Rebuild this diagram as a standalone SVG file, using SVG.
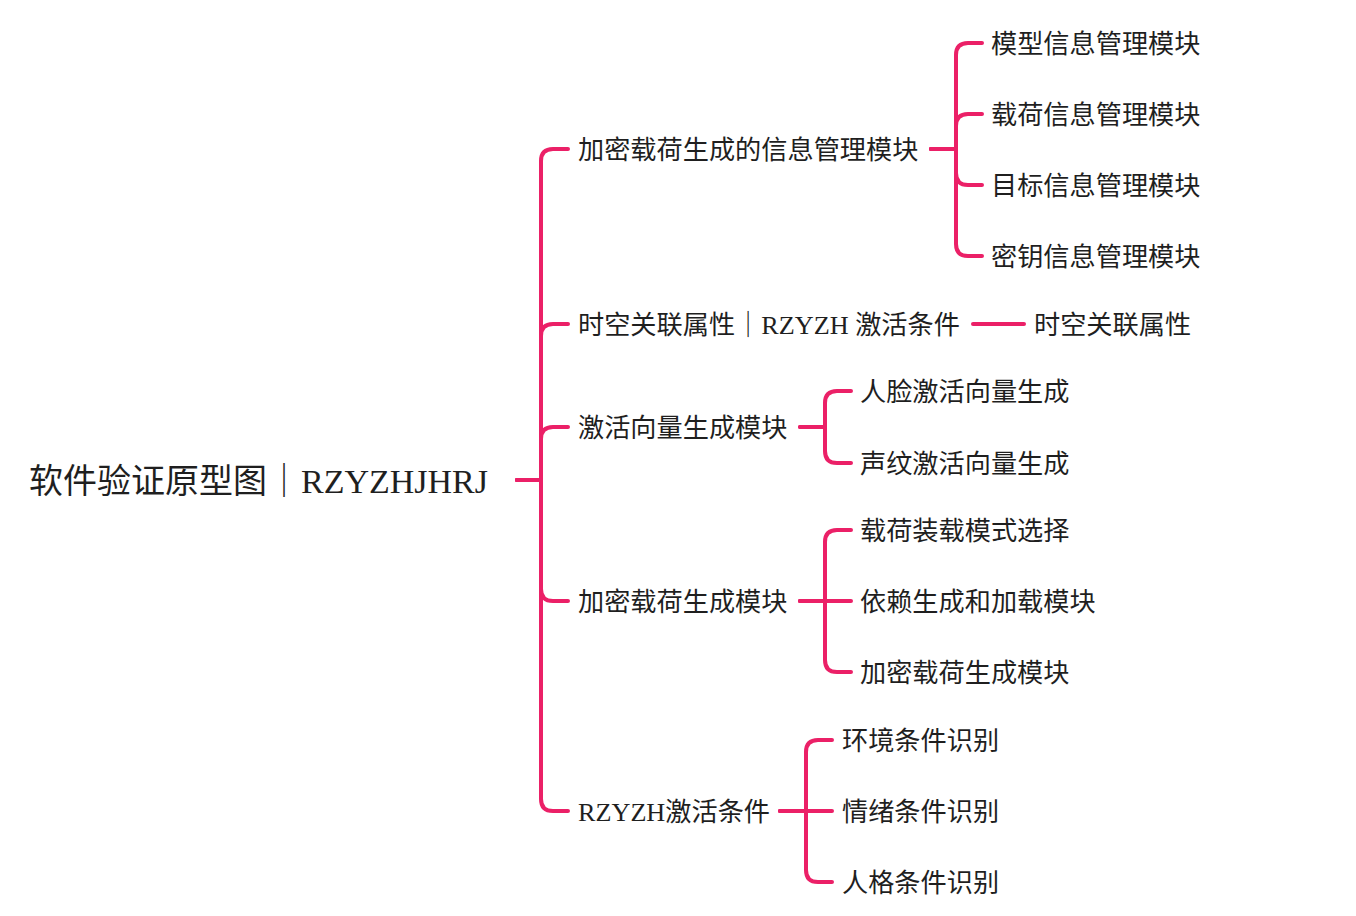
<svg xmlns="http://www.w3.org/2000/svg" width="1356" height="916" viewBox="0 0 1356 916">
<style>
.c{fill:none;stroke:#EB2067;stroke-width:4;stroke-linecap:round;stroke-linejoin:round}
text{font-family:"Liberation Serif","Noto Sans CJK SC",serif;fill:#1f1f1f;font-size:26.2px}
.root{font-size:34px}
</style>
<rect width="1356" height="916" fill="#fff"/>
<g id="connectors">
<path class="c" d="M517,480 H541 V161 Q541,149 553,149 H568"/>
<path class="c" d="M517,480 H541 V336 Q541,324 553,324 H568"/>
<path class="c" d="M517,480 H541 V439 Q541,427 553,427 H568"/>
<path class="c" d="M517,480 H541 V589 Q541,601 553,601 H568"/>
<path class="c" d="M517,480 H541 V799 Q541,811 553,811 H568"/>
<path class="c" d="M931,149 H956 V55 Q956,43 968,43 H982"/>
<path class="c" d="M931,149 H956 V126 Q956,114 968,114 H982"/>
<path class="c" d="M931,149 H956 V173 Q956,185 968,185 H982"/>
<path class="c" d="M931,149 H956 V244 Q956,256 968,256 H982"/>
<path class="c" d="M973,324 H1024"/>
<path class="c" d="M800,427 H825 V403 Q825,391 837,391 H851"/>
<path class="c" d="M800,427 H825 V451 Q825,463 837,463 H851"/>
<path class="c" d="M800,601 H825 V542 Q825,530 837,530 H851"/>
<path class="c" d="M800,601 H851"/>
<path class="c" d="M800,601 H825 V660 Q825,672 837,672 H851"/>
<path class="c" d="M780,811 H806 V752 Q806,740 818,740 H832"/>
<path class="c" d="M780,811 H832"/>
<path class="c" d="M780,811 H806 V870 Q806,882 818,882 H832"/>
</g>
<g id="root"><text class="root" x="29" y="493">软件验证原型图｜RZYZHJHRJ</text></g>
<g id="n1"><text x="578" y="159">加密载荷生成的信息管理模块</text></g>
<g id="n1a"><text x="991" y="53">模型信息管理模块</text></g>
<g id="n1b"><text x="991" y="124">载荷信息管理模块</text></g>
<g id="n1c"><text x="991" y="195">目标信息管理模块</text></g>
<g id="n1d"><text x="991" y="266">密钥信息管理模块</text></g>
<g id="n2"><text x="578" y="334">时空关联属性｜RZYZH 激活条件</text></g>
<g id="n2a"><text x="1034" y="334">时空关联属性</text></g>
<g id="n3"><text x="578" y="437">激活向量生成模块</text></g>
<g id="n3a"><text x="860" y="401">人脸激活向量生成</text></g>
<g id="n3b"><text x="860" y="473">声纹激活向量生成</text></g>
<g id="n4"><text x="578" y="611">加密载荷生成模块</text></g>
<g id="n4a"><text x="860" y="540">载荷装载模式选择</text></g>
<g id="n4b"><text x="860" y="611">依赖生成和加载模块</text></g>
<g id="n4c"><text x="860" y="682">加密载荷生成模块</text></g>
<g id="n5"><text x="578" y="821">RZYZH激活条件</text></g>
<g id="n5a"><text x="842" y="750">环境条件识别</text></g>
<g id="n5b"><text x="842" y="821">情绪条件识别</text></g>
<g id="n5c"><text x="842" y="892">人格条件识别</text></g>
</svg>
